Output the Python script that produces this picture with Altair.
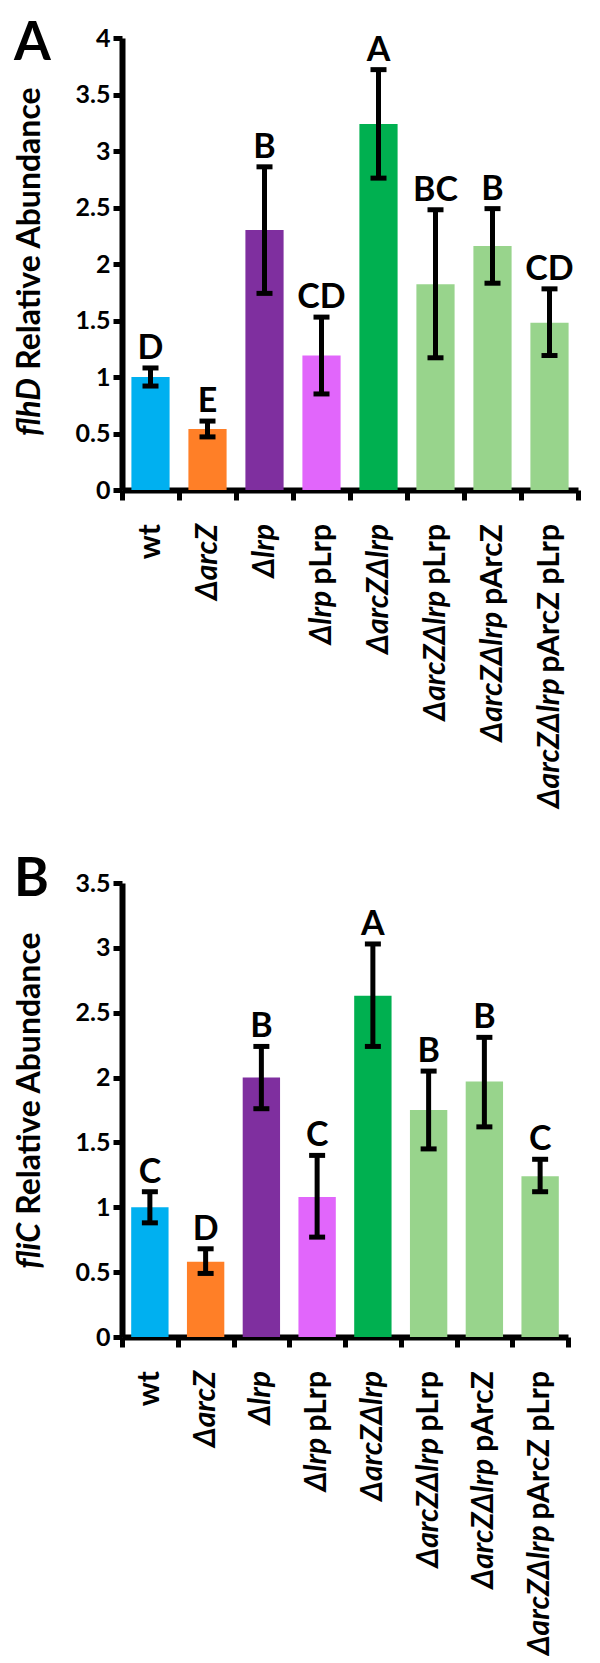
import altair as alt
import pandas as pd

# ---------------- data ----------------
strains = ["wt", "ΔarcZ", "Δlrp", "Δlrp pLrp", "ΔarcZΔlrp",
           "ΔarcZΔlrp pLrp", "ΔarcZΔlrp pArcZ", "ΔarcZΔlrp pArcZ pLrp"]
italic_part = ["", "ΔarcZ", "Δlrp", "Δlrp", "ΔarcZΔlrp",
               "ΔarcZΔlrp", "ΔarcZΔlrp", "ΔarcZΔlrp"]
plain_part = ["wt", "", "", "pLrp", "", "pLrp", "pArcZ", "pArcZ pLrp"]
colors = ["#00B0F0", "#FF7F27", "#7F2F9F", "#E166FB", "#00B050",
          "#98D48C", "#98D48C", "#98D48C"]

flhD_mean = [1.00, 0.54, 2.30, 1.19, 3.24, 1.82, 2.16, 1.48]
flhD_lo = [0.92, 0.47, 1.74, 0.85, 2.76, 1.17, 1.83, 1.19]
flhD_hi = [1.08, 0.61, 2.86, 1.53, 3.72, 2.48, 2.49, 1.78]
flhD_grp = ["D", "E", "B", "CD", "A", "BC", "B", "CD"]
flhD_ticks = [0, 0.5, 1, 1.5, 2, 2.5, 3, 3.5, 4]

fliC_mean = [1.00, 0.58, 2.00, 1.08, 2.63, 1.75, 1.97, 1.24]
fliC_lo = [0.88, 0.49, 1.76, 0.77, 2.24, 1.45, 1.62, 1.12]
fliC_hi = [1.12, 0.68, 2.24, 1.40, 3.03, 2.05, 2.31, 1.37]
fliC_grp = ["C", "D", "B", "C", "A", "B", "B", "C"]
fliC_ticks = [0, 0.5, 1, 1.5, 2, 2.5, 3, 3.5]

FONT = "Lato"
LABEL_SIZE = 30
TITLE_SIZE = 32
# approximate advance widths of Lato Bold (em) used to place the plain suffix
EM = {" ": 0.193, "p": 0.57, "L": 0.50, "r": 0.39, "A": 0.69, "c": 0.46,
      "Z": 0.62, "w": 0.80, "t": 0.37}


def text_w(s, size):
    return sum(EM.get(ch, 0.55) for ch in s) * size


def panel(mean, lo, hi, grp, ticks, ymax, W, H, gene, letter, letter_y,
          title_x, junction):
    df = pd.DataFrame({"strain": strains, "mean": mean, "lo": lo, "hi": hi,
                       "grp": grp, "color": colors,
                       "ital": italic_part, "plain": plain_part})
    xs = alt.X("strain:N", sort=strains,
               scale=alt.Scale(paddingInner=0, paddingOuter=0),
               axis=alt.Axis(labels=False, title=None, tickBand="extent",
                             tickSize=10, tickWidth=5, tickColor="black",
                             domainWidth=6, domainColor="black", grid=False))
    yscale = alt.Scale(domain=[0, ymax], nice=False, zero=True)
    yaxis = alt.Axis(values=ticks, title=None, grid=False, tickSize=9,
                     tickWidth=5, tickColor="black", domainWidth=6,
                     domainColor="black", labelFont=FONT, labelFontSize=25,
                     labelFontWeight="bold", labelColor="black",
                     labelPadding=3, format="~g")
    base = alt.Chart(df)
    bars = base.mark_bar(width=alt.RelativeBandSize(0.67)).encode(
        x=xs, y=alt.Y("mean:Q", scale=yscale, axis=yaxis),
        color=alt.Color("color:N", scale=None))
    xs2 = alt.X("strain:N", sort=strains)
    rule = base.mark_rule(strokeWidth=5, color="black").encode(
        x=xs2, y=alt.Y("lo:Q", title=None), y2="hi:Q")
    cap_lo = base.mark_tick(size=16, thickness=5, color="black",
                            opacity=1).encode(x=xs2, y=alt.Y("lo:Q", title=None))
    cap_hi = base.mark_tick(size=16, thickness=5, color="black",
                            opacity=1).encode(x=xs2, y=alt.Y("hi:Q", title=None))
    letters = base.mark_text(font=FONT, fontWeight="bold", fontSize=34,
                             baseline="alphabetic", dy=-9,
                             color="black").encode(
        x=xs2, y=alt.Y("hi:Q", title=None), text="grp:N")

    layers = [bars, rule, cap_lo, cap_hi, letters]

    # x tick labels: plain part near the axis, italic part below it
    gap = 34
    plain_lbl = base.transform_filter("datum.plain != ''").mark_text(
        font=FONT, fontWeight="bold", fontSize=LABEL_SIZE, angle=270,
        align="right", baseline="middle", color="black").encode(
        x=xs2, y=alt.value(H + gap), text="plain:N")
    layers.append(plain_lbl)
    offsets = {}
    for it, pl in zip(italic_part, plain_part):
        if it:
            off = text_w(" " + pl, LABEL_SIZE) if pl else 0
            offsets.setdefault(round(off, 1), []).append(pl)
    for off, pls in offsets.items():
        cond = " || ".join(f"datum.plain == '{p}'" for p in sorted(set(pls)))
        lyr = base.transform_filter(f"datum.ital != '' && ({cond})").mark_text(
            font=FONT, fontWeight="bold", fontStyle="italic",
            fontSize=LABEL_SIZE, angle=270, align="right", baseline="middle",
            color="black").encode(x=xs2, y=alt.value(H + gap + off),
                                  text="ital:N")
        layers.append(lyr)

    # y title: italic gene name + plain text
    tdf = pd.DataFrame({"gene": [gene], "rest": ["Relative Abundance"],
                        "letter": [letter]})
    tb = alt.Chart(tdf)
    space = text_w(" ", TITLE_SIZE) + 2
    t_gene = tb.mark_text(font=FONT, fontWeight="bold", fontStyle="italic",
                          fontSize=TITLE_SIZE, angle=270, align="right",
                          baseline="middle", color="black").encode(
        x=alt.value(title_x), y=alt.value(junction), text="gene:N")
    t_rest = tb.mark_text(font=FONT, fontWeight="bold", fontSize=TITLE_SIZE,
                          angle=270, align="left", baseline="middle",
                          color="black").encode(
        x=alt.value(title_x), y=alt.value(junction - space), text="rest:N")
    t_letter = tb.mark_text(font=FONT, fontWeight="bold", fontSize=53,
                            align="left", baseline="alphabetic",
                            color="black").encode(
        x=alt.value(-108), y=alt.value(letter_y), text="letter:N")
    layers += [t_gene, t_rest, t_letter]
    return alt.layer(*layers).properties(width=W, height=H)


chartA = panel(flhD_mean, flhD_lo, flhD_hi, flhD_grp, flhD_ticks, 4,
               456, 452, "flhD", "A", 22, -92, 340)
chartB = panel(fliC_mean, fliC_lo, fliC_hi, fliC_grp, fliC_ticks, 3.5,
               446, 454, "fliC", "B", 13, -92, 340)

chart = alt.vconcat(chartA, chartB, spacing=393, bounds="flush").properties(
    padding={"left": 5, "top": 10, "right": 0, "bottom": 0}
).configure_view(stroke=None)

chart.save("out.html", embed_options={"renderer": "svg", "actions": False})
